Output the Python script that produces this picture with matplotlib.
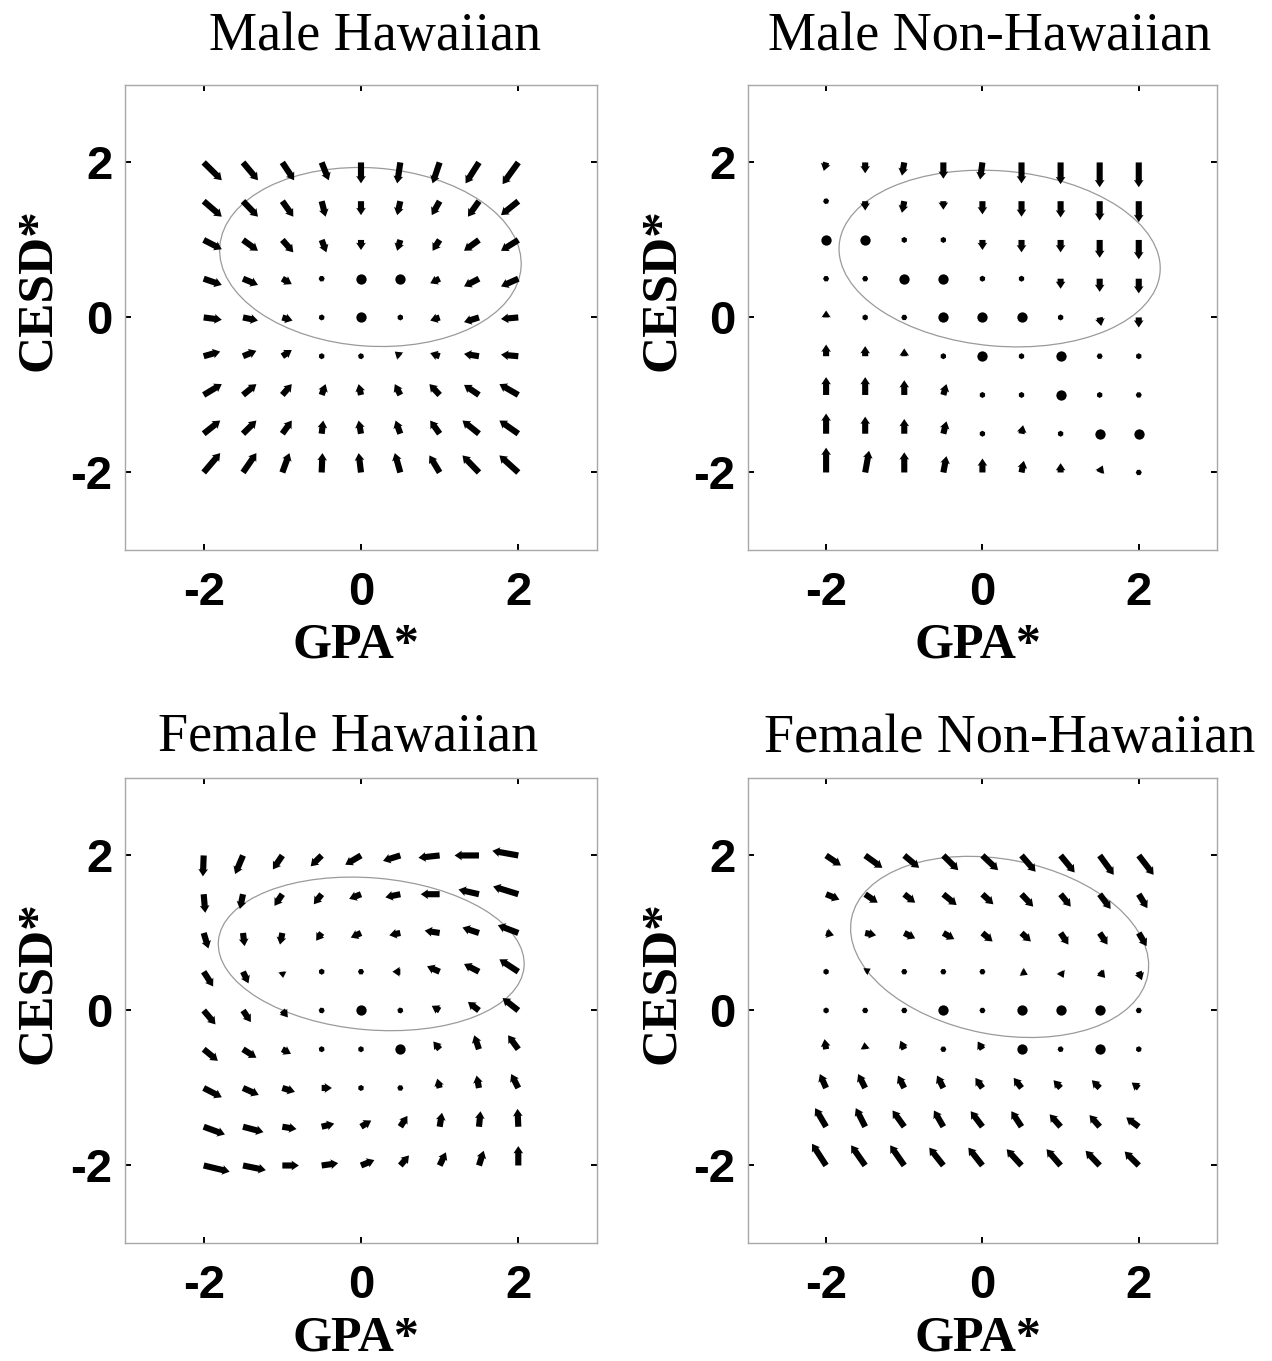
import numpy as np
import matplotlib
matplotlib.use("Agg")
import matplotlib.pyplot as plt
from matplotlib.patches import Ellipse

# grid of standardized GPA / CESD values (rows run from CESD=2 down to -2)
gpa = [-2, -1.5, -1, -0.5, 0, 0.5, 1, 1.5, 2]
cesd = [2, 1.5, 1, 0.5, 0, -0.5, -1, -1.5, -2]

# Male Hawaiian
mh_u = [[.23, .19, .15, .09, 0, -.04, -.09, -.17, -.20],
        [.23, .19, .14, .05, 0, -.04, -.10, -.14, -.22],
        [.23, .19, .14, .06, 0, -.04, -.09, -.19, -.22],
        [.23, .19, .12, .04, 0, 0, -.12, -.19, -.22],
        [.23, .19, .13, .05, 0, -.03, -.12, -.19, -.22],
        [.21, .17, .12, .06, .01, -.07, -.12, -.19, -.22],
        [.23, .17, .12, .05, -.03, -.07, -.13, -.19, -.24],
        [.21, .17, .12, .02, -.03, -.06, -.12, -.21, -.24],
        [.21, .17, .09, .01, -.03, -.07, -.13, -.21, -.24]]
mh_v = [[-.23, -.23, -.23, -.23, -.27, -.27, -.27, -.27, -.28],
        [-.20, -.20, -.20, -.20, -.18, -.18, -.18, -.20, -.18],
        [-.12, -.14, -.16, -.16, -.13, -.14, -.14, -.14, -.14],
        [-.08, -.08, -.07, -.06, 0, 0, -.06, -.10, -.10],
        [-.03, -.04, -.04, -.04, 0, -.02, -.04, -.06, -.02],
        [.06, .07, .08, .03, .01, .06, .04, .03, .02],
        [.14, .14, .14, .14, .14, .14, .14, .13, .14],
        [.17, .17, .17, .17, .17, .17, .17, .17, .17],
        [.25, .25, .25, .25, .25, .25, .22, .22, .22]]

# Male Non-Hawaiian
mn_u = [[-.03, 0, -.03, 0, -.03, 0, 0, 0, 0],
        [-.02, 0, -.03, 0, 0, 0, 0, 0, 0],
        [0, 0, 0, 0, 0, 0, 0, 0, 0],
        [-.04, .02, 0, 0, 0, 0, 0, 0, 0],
        [0, 0, .02, 0, 0, 0, 0, .02, 0],
        [0, 0, 0, 0, 0, 0, 0, .03, 0],
        [0, 0, 0, .04, 0, 0, 0, 0, .02],
        [0, 0, 0, .04, 0, .02, 0, 0, 0],
        [0, .05, 0, .04, 0, .03, 0, .04, .03]]
mn_v = [[-.11, -.14, -.17, -.21, -.22, -.27, -.28, -.32, -.32],
        [-.06, -.12, -.15, -.11, -.17, -.20, -.21, -.25, -.27],
        [0, 0, .03, -.05, -.13, -.16, -.16, -.23, -.25],
        [.06, 0, 0, 0, -.04, -.04, -.13, -.17, -.19],
        [.09, .03, 0, 0, 0, 0, -.05, -.11, -.13],
        [.15, .13, .10, .03, 0, .02, 0, -.05, -.04],
        [.23, .23, .19, .14, .04, .06, 0, .03, 0],
        [.26, .22, .19, .16, .05, .11, .02, 0, 0],
        [.32, .28, .26, .21, .18, .15, .12, .09, .06]]

# Female Hawaiian
fh_u = [[-.01, -.10, -.12, -.14, -.20, -.22, -.27, -.31, -.33],
        [.02, -.04, -.10, -.10, -.15, -.19, -.24, -.26, -.32],
        [.06, .02, -.03, -.07, -.13, -.14, -.19, -.21, -.26],
        [.12, .07, .01, 0, -.05, -.10, -.16, -.19, -.24],
        [.15, .10, .07, .02, 0, -.03, -.10, -.14, -.20],
        [.18, .17, .11, .07, .03, 0, -.08, -.06, -.13],
        [.23, .20, .16, .13, .06, .02, -.03, -.03, -.09],
        [.27, .26, .18, .16, .13, .09, .03, .02, -.01],
        [.33, .29, .21, .21, .17, .11, .08, .06, 0]]
fh_v = [[-.27, -.24, -.18, -.14, -.12, -.07, -.03, 0, .06],
        [-.24, -.19, -.15, -.13, -.06, -.04, 0, .06, .10],
        [-.20, -.17, -.15, -.10, -.06, -.03, .03, .07, .10],
        [-.19, -.15, -.08, -.05, 0, 0, .07, .10, .16],
        [-.18, -.15, -.09, -.05, 0, .01, .06, .11, .16],
        [-.15, -.11, -.06, -.03, .02, 0, .10, .18, .18],
        [-.12, -.09, -.05, 0, .03, .03, .12, .16, .18],
        [-.10, -.07, -.03, .04, .08, .14, .18, .20, .23],
        [-.08, -.06, 0, .03, .07, .13, .17, .19, .25]]

# Female Non-Hawaiian
fn_u = [[.19, .22, .19, .19, .20, .18, .18, .18, .19],
        [.17, .16, .14, .17, .14, .15, .13, .14, .11],
        [.10, .14, .14, .14, .13, .12, .10, .10, .10],
        [.06, .07, .02, .04, .02, .08, .04, .07, .04],
        [0, .02, .02, 0, .02, 0, 0, 0, .02],
        [-.02, -.01, -.05, -.03, -.06, 0, -.05, 0, -.05],
        [-.08, -.09, -.08, -.08, -.09, -.10, -.09, -.10, -.09],
        [-.14, -.12, -.15, -.12, -.15, -.13, -.14, -.13, -.16],
        [-.18, -.18, -.18, -.18, -.18, -.19, -.18, -.18, -.18]]
fn_v = [[-.13, -.16, -.16, -.19, -.19, -.21, -.22, -.25, -.25],
        [-.07, -.11, -.11, -.14, -.13, -.16, -.16, -.19, -.18],
        [-.03, -.03, -.07, -.08, -.11, -.11, -.15, -.15, -.17],
        [.03, .04, 0, 0, 0, -.04, -.08, -.08, -.11],
        [.05, 0, 0, 0, 0, 0, 0, 0, 0],
        [.13, .09, .11, .05, .10, 0, .06, 0, .04],
        [.18, .18, .16, .16, .13, .13, .10, .10, .07],
        [.24, .24, .21, .21, .20, .20, .16, .15, .12],
        [.28, .26, .26, .23, .23, .21, .21, .19, .18]]

# ellipses: center x, center y, full width, full height, angle (deg)
ell_mh = [0.12, 0.78, 3.84, 2.30, -4]
ell_mn = [0.22, 0.76, 4.12, 2.26, -5]
ell_fh = [0.13, 0.73, 3.90, 1.96, -5]
ell_fn = [0.22, 0.82, 3.86, 2.26, -11]

titles = ["Male Hawaiian", "Male Non-Hawaiian", "Female Hawaiian", "Female Non-Hawaiian"]
ticks = [-2, 0, 2]

fig = plt.figure(figsize=(12.72, 13.61), dpi=100)

panels = [
    # rect, u, v, ellipse, title, title x, title y
    ([0.0983, 0.5959, 0.371, 0.3417], mh_u, mh_v, ell_mh, titles[0], 0.530, 1.075),
    ([0.5880, 0.5959, 0.3687, 0.3417], mn_u, mn_v, ell_mn, titles[1], 0.515, 1.075),
    ([0.0983, 0.0867, 0.371, 0.3417], fh_u, fh_v, ell_fh, titles[2], 0.472, 1.058),
    ([0.5880, 0.0867, 0.3687, 0.3417], fn_u, fn_v, ell_fn, titles[3], 0.559, 1.056),
]

X, Y = np.meshgrid(gpa, cesd)

for rect, u, v, ell, title, tx, ty in panels:
    ax = fig.add_axes(rect)
    U = np.array(u)
    V = np.array(v)
    still = (U == 0) & (V == 0)
    moving = ~still

    ax.add_patch(Ellipse((ell[0], ell[1]), ell[2], ell[3], angle=ell[4],
                         fill=False, edgecolor="#9a9a9a", lw=0.9, zorder=1))
    # thick shafts with a small pointed tip
    ax.quiver(X[moving], Y[moving], U[moving], V[moving],
              angles="xy", scale_units="xy", scale=1, pivot="tail",
              color="black", width=0.013, headwidth=1.6, headlength=1.2,
              headaxislength=1.1, zorder=3)
    ax.scatter(X[still], Y[still], s=55, color="black", zorder=3, linewidths=0)

    ax.set_xlim(-3, 3)
    ax.set_ylim(-3, 3)
    ax.set_xticks(ticks)
    ax.set_yticks(ticks)
    ax.set_xticklabels([str(t) for t in ticks])
    ax.set_yticklabels([str(t) for t in ticks])
    ax.tick_params(direction="in", length=4, width=1.4, color="black",
                   top=True, right=True, labelsize=34, pad=9)
    ax.tick_params(axis="x", pad=15)
    for lab in ax.get_xticklabels() + ax.get_yticklabels():
        lab.set_family("Liberation Sans")
        lab.set_fontweight("bold")
    for sp in ax.spines.values():
        sp.set_color("#a8a8a8")
        sp.set_linewidth(1.0)

    ax.text(tx, ty, title, transform=ax.transAxes, ha="center", va="baseline",
            family="Liberation Serif", fontsize=39)
    ax.text(0.49, -0.232, "GPA*", transform=ax.transAxes, ha="center",
            va="baseline", family="Liberation Serif", fontweight="bold", fontsize=36)
    ax.text(-0.184, 0.56, "CESD*", transform=ax.transAxes, ha="center",
            va="center", rotation=90, family="Liberation Serif",
            fontweight="bold", fontsize=37)

fig.savefig("out.png", dpi=100)
